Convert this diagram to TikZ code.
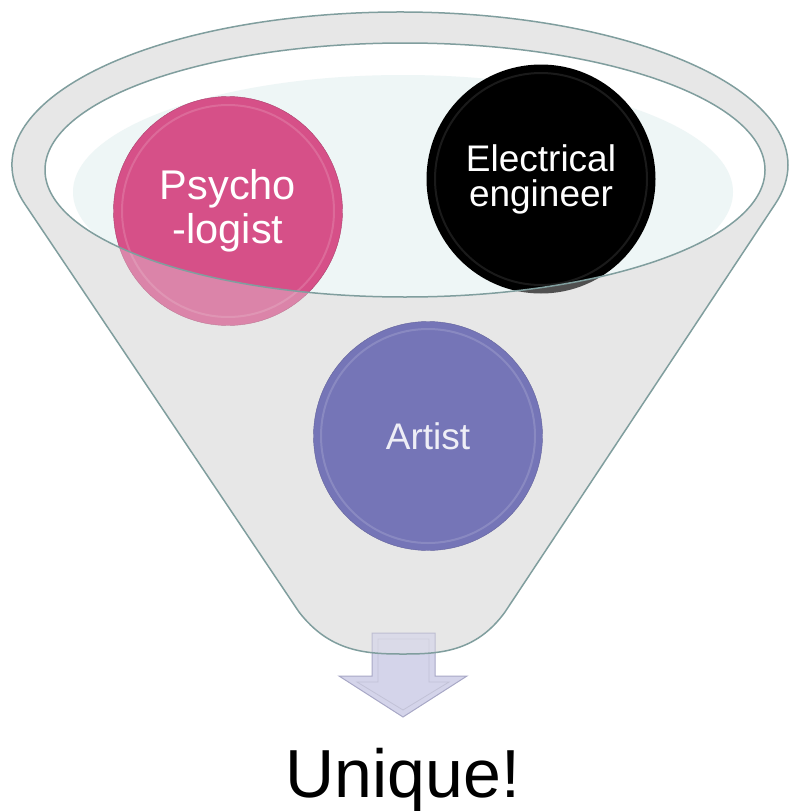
\documentclass[tikz,border=0pt]{standalone}
\usepackage{fontspec}
\setmainfont{Liberation Sans}

\definecolor{funnelfill}{RGB}{231,231,231}
\definecolor{rimline}{RGB}{128,158,158}
\definecolor{glassfill}{RGB}{238,246,246}
\definecolor{psychpink}{RGB}{214,80,136}
\definecolor{artistblue}{RGB}{117,117,183}
\definecolor{artisttext}{RGB}{238,238,246}
\definecolor{arrowfill}{RGB}{212,212,234}
\definecolor{arrowedge}{RGB}{168,168,198}

% outline of the funnel, in pixel units
\newcommand\funnelpath{(24.9,204.1) arc[start angle=194.8, end angle=-14.8, x radius=388pt, y radius=153pt]
  -- (505,612) .. controls (476,652) and (440,654) .. (403,654)
  .. controls (366,654) and (330,652) .. (299,612) -- cycle}
\newcommand\rimpath{(405,170) ellipse[x radius=360pt, y radius=127pt]}

\tikzset{
  bubble/.style={circle, minimum size=229pt, inner sep=0pt, align=center, text=white},
  ring/.style={white, opacity=0.15, line width=2pt},
  rim/.style={draw=rimline, line width=1.5pt},
  arrowbox/.style={fill=arrowfill, draw=arrowedge, line width=1pt, line join=miter},
}

\begin{document}
\begin{tikzpicture}[x=1pt,y=-1pt]
  \useasboundingbox (0,0) rectangle (789,811);
  % funnel body and open top
  \fill[funnelfill] \funnelpath;
  \fill[white] \rimpath;
  \begin{scope}
    \clip \rimpath;
    \fill[glassfill] (403,192) ellipse[x radius=330pt, y radius=117pt];
  \end{scope}
  % arrow out of the funnel
  \draw[arrowbox] (372,633) -- (435,633) -- (435,676) -- (467,676) -- (403,717)
    -- (339,676) -- (372,676) -- cycle;
  \draw[arrowedge!70, line width=0.8pt] (378,639) -- (429,639) -- (429,682) -- (449,682) -- (403,710)
    -- (357,682) -- (378,682) -- cycle;
  % the two upper circles
  \node[bubble, fill=psychpink, draw=psychpink!80!black, font=\fontsize{41.5}{44}\selectfont] (psych) at (228,211) {Psycho\\-logist};
  \node[bubble, fill=black, font=\fontsize{37}{35}\selectfont] (elec) at (541,179) {Electrical\\engineer};
  \draw[ring] (psych.center) circle[radius=106pt];
  \draw[ring, opacity=0.1] (elec.center) circle[radius=106pt];
  % glass in front of them
  \fill[funnelfill, opacity=0.35, even odd rule] \funnelpath \rimpath;
  % lower circle
  \node[bubble, fill=artistblue, draw=artistblue!85!black, text=artisttext, font=\fontsize{37}{40}\selectfont] (artist) at (428,436) {Artist};
  \draw[ring] (artist.center) circle[radius=107pt];
  % rims
  \draw[rim] \rimpath;
  \draw[rim] \funnelpath;
  \node[font=\fontsize{68}{70}\selectfont, anchor=base] (unique) at (403,797) {Unique!};
\end{tikzpicture}
\end{document}
